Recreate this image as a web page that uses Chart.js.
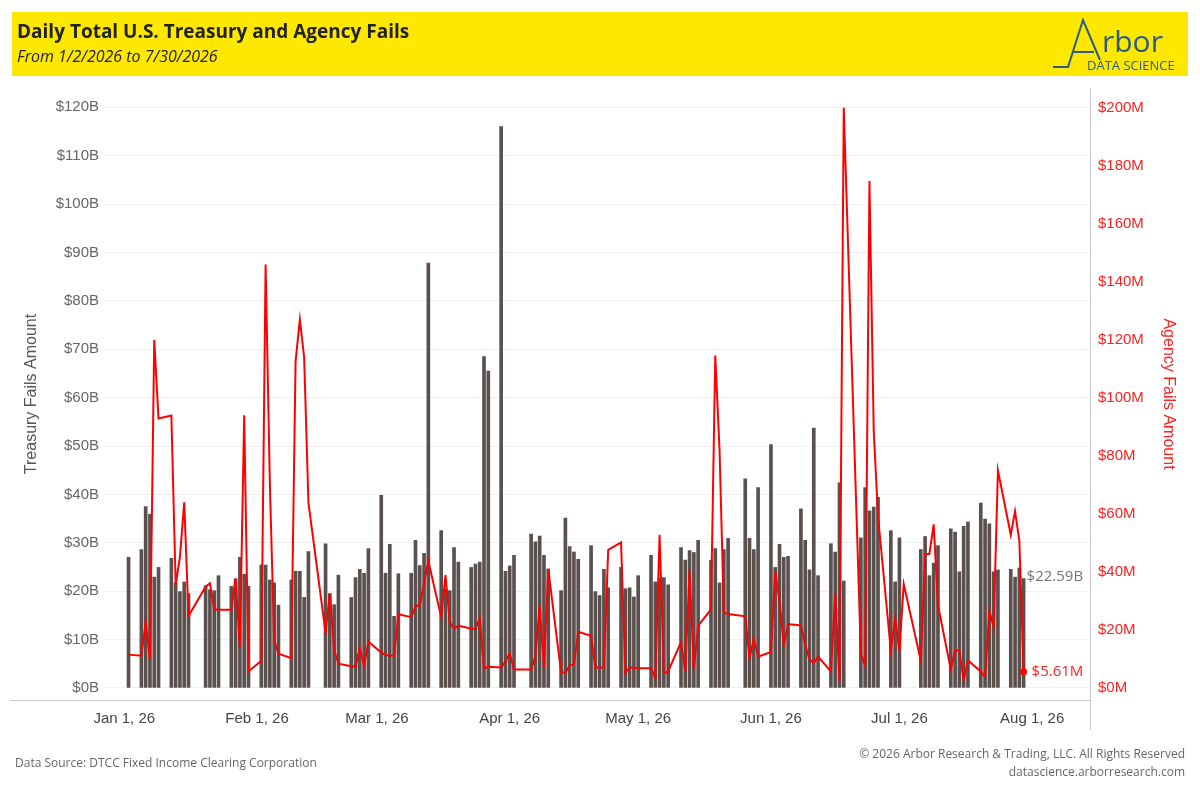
<!DOCTYPE html>
<html>
<head>
<meta charset="utf-8">
<script src="https://cdn.jsdelivr.net/npm/chart.js@4"></script>
<style>
  html, body { margin: 0; padding: 0; background: #fff; }
  #wrap { position: relative; width: 1200px; height: 800px; }
</style>
</head>
<body>
<div id="wrap"><canvas id="c" width="1200" height="800"></canvas></div>
<script>
// ===== DAILY FAILS DATA =====
// [date, treasury fails ($B), agency fails ($M)]
const FAILS = [
  ['2026-01-02',27.0,11.5],
  ['2026-01-05',28.6,11.1],['2026-01-06',37.5,22.8],['2026-01-07',35.9,9.8],['2026-01-08',22.9,120],['2026-01-09',24.9,92.9],
  ['2026-01-12',26.8,93.9],['2026-01-13',21.7,35.5],['2026-01-14',19.9,45.2],['2026-01-15',21.9,64],['2026-01-16',19.5,24.8],
  ['2026-01-20',21.1,34.9],['2026-01-21',20.3,36.1],['2026-01-22',20.1,27.1],['2026-01-23',23.2,27],
  ['2026-01-26',21,27],['2026-01-27',22.5,37.8],['2026-01-28',27,14],['2026-01-29',23.5,94],['2026-01-30',21,5.7],
  ['2026-02-02',25.4,9.4],['2026-02-03',25.4,146],['2026-02-04',22.3,70],['2026-02-05',21.7,16.4],['2026-02-06',17.1,11.8],
  ['2026-02-09',22.3,10.3],['2026-02-10',24.1,112.6],['2026-02-11',24.1,127],['2026-02-12',18.7,114],['2026-02-13',28.2,63.9],
  ['2026-02-17',29.8,19.1],['2026-02-18',19.5,32.5],['2026-02-19',17.2,13.1],['2026-02-20',23.3,8.4],
  ['2026-02-23',18.7,7.5],['2026-02-24',22.8,7.3],['2026-02-25',24.5,13.8],['2026-02-26',23.7,7.7],['2026-02-27',28.8,16],
  ['2026-03-02',39.8,12.2],['2026-03-03',23.7,11.4],['2026-03-04',29.7,11.2],['2026-03-05',14.8,11.1],['2026-03-06',23.6,25.4],
  ['2026-03-09',23.7,24.4],['2026-03-10',30.5,28.2],['2026-03-11',25.3,28.5],['2026-03-12',27.8,36],['2026-03-13',87.8,43.8],
  ['2026-03-16',32.5,24.4],['2026-03-17',20.5,38.9],['2026-03-18',20.1,22.7],['2026-03-19',29,20.4],['2026-03-20',26,21.5],
  ['2026-03-23',24.9,20.4],['2026-03-24',25.6,20.4],['2026-03-25',26,24],['2026-03-26',68.5,6.7],['2026-03-27',65.5,7.3],
  ['2026-03-30',116,7.1],['2026-03-31',24.1,9.1],['2026-04-01',25.2,12],['2026-04-02',27.4,6.4],
  ['2026-04-06',31.8,6.4],['2026-04-07',30.2,11],['2026-04-08',31.4,28.5],['2026-04-09',27.4,6.8],['2026-04-10',24.6,41],
  ['2026-04-13',20.1,5.3],['2026-04-14',35.1,5.3],['2026-04-15',29.2,7.7],['2026-04-16',28.1,8.1],['2026-04-17',26.6,19.4],
  ['2026-04-20',29.4,18],['2026-04-21',19.9,7.1],['2026-04-22',19.1,7.1],['2026-04-23',24.5,7.1],['2026-04-24',20.7,47.6],
  ['2026-04-27',24.9,50.2],['2026-04-28',20.5,5.1],['2026-04-29',20.7,7.1],['2026-04-30',18.8,7.1],['2026-05-01',23.2,6.8],
  ['2026-05-04',27.4,6.8],['2026-05-05',21.9,3.3],['2026-05-06',22.7,52.8],['2026-05-07',22.8,5.1],['2026-05-08',21.3,5.7],
  ['2026-05-11',29,15.8],['2026-05-12',26.4,5.7],['2026-05-13',28.4,40.5],['2026-05-14',28,6.4],['2026-05-15',30.5,21.4],
  ['2026-05-18',26.4,27.1],['2026-05-19',28.8,114.6],['2026-05-20',21.7,81.9],['2026-05-21',28.6,26],['2026-05-22',30.9,25.5],
  ['2026-05-26',43.2,24.7],['2026-05-27',30.9,10.2],['2026-05-28',28.6,17.1],['2026-05-29',41.4,10.8],
  ['2026-06-01',50.3,12.4],['2026-06-02',24.9,40.1],['2026-06-03',29.7,30],['2026-06-04',27,14.8],['2026-06-05',27.2,22],
  ['2026-06-08',37,21.6],['2026-06-09',30.5,15],['2026-06-10',24.4,9.8],['2026-06-11',53.7,8.7],['2026-06-12',23.2,10.8],
  ['2026-06-15',29.8,5.7],['2026-06-16',28.1,32.5],['2026-06-17',42.4,2.4],['2026-06-18',22.1,200],
  ['2026-06-22',31,11.8],['2026-06-23',41.4,7.7],['2026-06-24',36.6,174.7],['2026-06-25',37.4,88.6],['2026-06-26',39.4,59.2],
  ['2026-06-29',32.5,12.8],['2026-06-30',21.9,24.2],['2026-07-01',31,12.8],['2026-07-02',null,35.8],
  ['2026-07-06',28.6,9.4],['2026-07-07',31.3,46.2],['2026-07-08',23.2,46.2],['2026-07-09',25.8,56.4],['2026-07-10',29.4,28.5],
  ['2026-07-13',32.9,6.4],['2026-07-14',32.2,13.1],['2026-07-15',24,12.8],['2026-07-16',33.4,2.8],['2026-07-17',34.3,9.5],
  ['2026-07-20',38.2,5.7],['2026-07-21',34.9,3.7],['2026-07-22',33.9,26.5],['2026-07-23',24,21.1],['2026-07-24',24.4,75],
  ['2026-07-27',24.5,52.8],['2026-07-28',22.9,60.9],['2026-07-29',24.8,50.8],['2026-07-30',22.59,5.61]
];

const MONTHS = ['Jan','Feb','Mar','Apr','May','Jun','Jul','Aug'];
const T0 = Date.UTC(2026, 0, 1);

// day offset from Jan 1, 2026
function dayOf(s) {
  const [y, m, d] = s.split('-').map(Number);
  return (Date.UTC(y, m - 1, d) - T0) / 86400000;
}

const MONTH_TICKS = MONTHS.map((m, i) => (Date.UTC(2026, i, 1) - T0) / 86400000);

const treasury = FAILS.filter(r => r[1] !== null).map(r => ({ x: dayOf(r[0]), y: r[1] }));
const agency = FAILS.map(r => ({ x: dayOf(r[0]), y: r[2] }));

// Header, footer, frame and end labels
const decor = {
  id: 'decor',
  beforeDraw(chart) {
    const c = chart.ctx;
    c.save();
    c.fillStyle = '#fff';
    c.fillRect(0, 0, 1200, 800);
    c.fillStyle = '#ffe800';
    c.fillRect(12, 12, 1176, 64);
    c.fillStyle = '#222';
    c.font = 'bold 19px "Open Sans", sans-serif';
    c.textBaseline = 'middle';
    c.fillText('Daily Total U.S. Treasury and Agency Fails', 17, 33);
    c.font = 'italic 16px "Open Sans", sans-serif';
    c.fillText('From 1/2/2026 to 7/30/2026', 17, 57);
    // logo
    c.strokeStyle = '#2b5b8a';
    c.fillStyle = '#2b5b8a';
    c.lineWidth = 2;
    c.beginPath();
    c.moveTo(1053, 67); c.lineTo(1068, 67); c.lineTo(1083, 20); c.lineTo(1100, 60);
    c.moveTo(1073, 52); c.lineTo(1094, 52);
    c.stroke();
    c.font = '30px "Open Sans", sans-serif';
    c.fillText('rbor', 1102, 43);
    c.font = '13px "Open Sans", sans-serif';
    c.fillText('DATA SCIENCE', 1087, 66);
    // footer
    c.fillStyle = '#666';
    c.font = '12px "Open Sans", sans-serif';
    c.fillText('Data Source: DTCC Fixed Income Clearing Corporation', 15, 764);
    c.textAlign = 'right';
    c.fillText('\u00a9 2026 Arbor Research & Trading, LLC. All Rights Reserved', 1185, 755);
    c.fillText('datascience.arborresearch.com', 1185, 773);
    c.restore();
  },
  afterDraw(chart) {
    const c = chart.ctx, a = chart.chartArea;
    c.save();
    c.strokeStyle = '#ccc';
    c.lineWidth = 1;
    c.beginPath();
    c.moveTo(a.right + 0.5, 88); c.lineTo(a.right + 0.5, 730);
    c.moveTo(10, a.bottom + 0.5); c.lineTo(a.right, a.bottom + 0.5);
    c.stroke();
    const xs = chart.scales.x, yl = chart.scales.y, yr = chart.scales.y1;
    const lastT = treasury[treasury.length - 1], lastA = agency[agency.length - 1];
    c.font = '15px "Open Sans", sans-serif';
    c.textBaseline = 'middle';
    c.fillStyle = '#777';
    c.fillText('$' + lastT.y.toFixed(2) + 'B', xs.getPixelForValue(lastT.x) + 3, yl.getPixelForValue(lastT.y) - 2);
    c.fillStyle = '#ff2020';
    c.fillText('$' + lastA.y.toFixed(2) + 'M', xs.getPixelForValue(lastA.x) + 8, yr.getPixelForValue(lastA.y));
    c.restore();
  }
};

new Chart(document.getElementById('c'), {
  data: {
    datasets: [
      { type: 'line', data: agency, yAxisID: 'y1', borderColor: '#ff0000', borderWidth: 2, tension: 0,
        pointRadius: ctx => ctx.dataIndex === agency.length - 1 ? 2.5 : 0, pointBackgroundColor: '#ff0000', order: 0 },
      { type: 'bar', data: treasury, yAxisID: 'y', backgroundColor: '#5a514e', barThickness: 3, order: 1 }
    ]
  },
  options: {
    responsive: false,
    animation: false,
    layout: { padding: { top: 88, bottom: 66, left: 22, right: 22 } },
    plugins: { legend: { display: false }, tooltip: { enabled: false } },
    scales: {
      x: {
        type: 'linear', min: -4.5, max: 225.5, offset: false,
        afterBuildTicks: s => { s.ticks = MONTH_TICKS.map(v => ({ value: v })); },
        afterFit: s => { s.height = 34; },
        ticks: { callback: (v) => MONTHS[MONTH_TICKS.indexOf(v)] + ' 1, 26', color: '#444', font: { size: 15 }, maxRotation: 0, padding: 10 },
        grid: { display: false, drawTicks: false },
        border: { display: false }
      },
      y: {
        position: 'left', min: -2.5, max: 124,
        afterBuildTicks: s => { s.ticks = Array.from({ length: 13 }, (_, i) => ({ value: i * 10 })); },
        afterFit: s => { s.width = 83; },
        ticks: { callback: v => '$' + v + 'B', color: '#666', font: { size: 15 }, padding: 6 },
        grid: { color: '#f0f0f0', drawTicks: false },
        border: { display: false },
        title: { display: true, text: 'Treasury Fails Amount', color: '#555', font: { size: 16 }, padding: 0 }
      },
      y1: {
        position: 'right', min: -4.14, max: 206.8,
        afterBuildTicks: s => { s.ticks = Array.from({ length: 11 }, (_, i) => ({ value: i * 20 })); },
        afterFit: s => { s.width = 88; },
        ticks: { callback: v => '$' + v + 'M', color: '#ff2020', font: { size: 15 }, padding: 8 },
        grid: { display: false, drawTicks: false },
        border: { display: false },
        title: { display: true, text: 'Agency Fails Amount', color: '#ff2020', font: { size: 16 }, padding: 0 }
      }
    }
  },
  plugins: [decor]
});
</script>
</body>
</html>
